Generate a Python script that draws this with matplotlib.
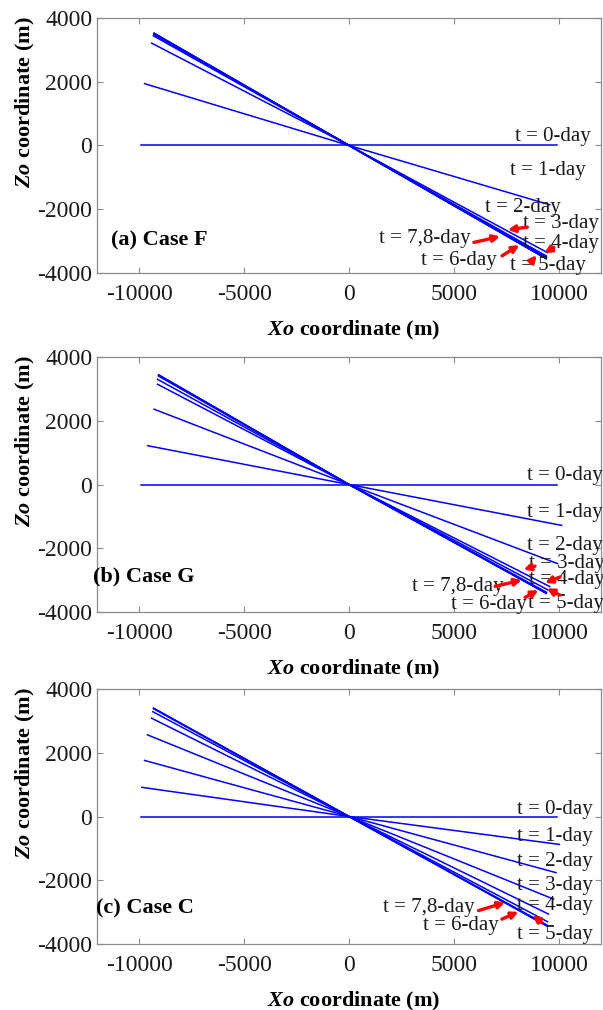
import matplotlib
matplotlib.use("Agg")
import matplotlib.pyplot as plt

plt.rcParams["font.family"] = ["Liberation Serif", "DejaVu Serif"]
plt.rcParams["mathtext.fontset"] = "custom"
plt.rcParams["mathtext.bfit"] = "Liberation Serif:italic:bold"
plt.rcParams["mathtext.rm"] = "Liberation Serif"
plt.rcParams["axes.unicode_minus"] = False

# ---- data: line end points per day (t = 0..8) ----
days = [0, 1, 2, 3, 4, 5, 6, 7, 8]

# Case F
f_x_left = [-9900, -9740, -9400, -9320, -9300, -9290, -9290, -9280, -9280]
f_z_left = [0, 1940, 3210, 3440, 3480, 3500, 3510, 3520, 3520]
f_x_right = [9900, 9550, 9440, 9400, 9390, 9380, 9380, 9380, 9380]
f_z_right = [0, -1860, -3360, -3470, -3510, -3540, -3545, -3550, -3550]

# Case G
g_x_left = [-9900, -9590, -9290, -9120, -9120, -9070, -9070, -9070, -9070]
g_z_left = [0, 1219, 2364, 3146, 3300, 3400, 3427, 3440, 3440]
g_x_right = [9900, 10120, 9920, 9550, 9450, 9400, 9380, 9380, 9380]
g_z_right = [0, -1281, -2479, -3200, -3300, -3380, -3400, -3410, -3410]

# Case C
c_x_left = [-9900, -9870, -9740, -9600, -9400, -9350, -9310, -9310, -9310]
c_z_left = [0, 916, 1760, 2562, 3084, 3290, 3380, 3397, 3397]
c_x_right = [9900, 10010, 9850, 9730, 9490, 9450, 9410, 9410, 9410]
c_z_right = [0, -875, -1760, -2590, -3060, -3300, -3400, -3430, -3430]

# labels: text, x, z
f_labels = [("t = 0-day", 7900, 280), ("t = 1-day", 7640, -770),
            ("t = 2-day", 6460, -1940), ("t = 3-day", 8290, -2440),
            ("t = 4-day", 8290, -3060), ("t = 5-day", 7640, -3770),
            ("t = 7,8-day", 1420, -2920), ("t = 6-day", 3430, -3610)]
g_labels = [("t = 0-day", 8450, 280), ("t = 1-day", 8450, -865),
            ("t = 2-day", 8450, -1906), ("t = 3-day", 8550, -2470),
            ("t = 4-day", 8550, -2980), ("t = 5-day", 8500, -3730),
            ("t = 7,8-day", 2980, -3190), ("t = 6-day", 4840, -3750)]
c_labels = [("t = 0-day", 7980, 219), ("t = 1-day", 7980, -615),
            ("t = 2-day", 7980, -1397), ("t = 3-day", 7980, -2178),
            ("t = 4-day", 7980, -2780), ("t = 5-day", 7980, -3690),
            ("t = 7,8-day", 1630, -2853), ("t = 6-day", 3540, -3428)]

# arrows: (x_from, z_from, x_to, z_to)
f_arrows = [(8480, -2560, 7550, -2650), (5940, -3040, 7190, -2853),
            (7280, -3460, 8100, -3125), (9750, -3200, 9290, -3375),
            (8650, -3666, 8930, -3440)]
g_arrows = [(8850, -2560, 8300, -2666), (6950, -3190, 8220, -3000),
            (8380, -3540, 9010, -3310), (10040, -2900, 9330, -3085),
            (10040, -3470, 9410, -3260)]
c_arrows = [(6160, -2950, 7430, -2696), (7270, -3219, 8060, -2990),
            (9170, -3322, 8740, -3094)]

cases = [
    ("(a) Case F", -11340, -2990, f_x_left, f_z_left, f_x_right, f_z_right, f_labels, f_arrows),
    ("(b) Case G", -12200, -2875, g_x_left, g_z_left, g_x_right, g_z_right, g_labels, g_arrows),
    ("(c) Case C", -12050, -2875, c_x_left, c_z_left, c_x_right, c_z_right, c_labels, c_arrows),
]

fig = plt.figure(figsize=(6.03, 10.10), dpi=100)
bottoms = [0.7297, 0.394, 0.0653]
spine_col = "#8a8a8a"

for (title, tx, tz, xl, zl, xr, zr, labels, arrows), b in zip(cases, bottoms):
    ax = fig.add_axes([0.161, b, 0.836, 0.2525])
    for i in range(len(days)):
        ax.plot([xl[i], 0, xr[i]], [zl[i], 0, zr[i]], color="blue", linewidth=1.1)
    for text, x, z in labels:
        ax.text(x, z, text, fontsize=15, va="center", ha="left", color="#1a1a1a")
    for x0, z0, x1, z1 in arrows:
        ax.annotate("", xy=(x1, z1), xytext=(x0, z0),
                    arrowprops=dict(arrowstyle="-|>", color="red", lw=2.4,
                                    mutation_scale=10, shrinkA=0, shrinkB=0))
    ax.text(tx, tz, title, fontsize=16, fontweight="bold", va="center", ha="left")

    ax.set_xlim(-12000, 12000)
    ax.set_ylim(-4000, 4000)
    ax.set_xticks([-10000, -5000, 0, 5000, 10000])
    ax.set_yticks([-4000, -2000, 0, 2000, 4000])
    ax.tick_params(direction="in", top=True, right=True, length=4, width=0.8,
                   color=spine_col, labelsize=17, labelcolor="#1a1a1a")
    ax.tick_params(axis="x", pad=8)
    ax.tick_params(axis="y", pad=3.5)
    for s in ax.spines.values():
        s.set_color(spine_col)
        s.set_linewidth(0.9)

    ax.set_xlabel(r"$\mathbfit{Xo}$ coordinate (m)", fontsize=16, fontweight="bold")
    ax.set_ylabel(r"$\mathbfit{Zo}$ coordinate (m)", fontsize=16, fontweight="bold")
    ax.xaxis.set_label_coords(0.51, -0.18)
    ax.yaxis.set_label_coords(-0.12, 0.67)

fig.savefig("out.png", dpi=100)
